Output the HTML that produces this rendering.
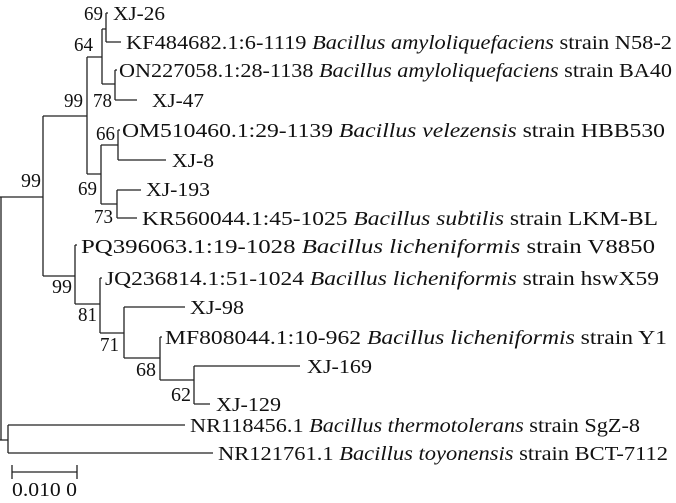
<!DOCTYPE html>
<html><head><meta charset="utf-8"><style>
html,body{margin:0;padding:0;background:#fff;}
svg{display:block;}
text{font-family:"Liberation Serif","Times New Roman",serif;font-size:20px;fill:#111;dominant-baseline:central;}
</style></head><body>
<svg width="676" height="503" viewBox="0 0 676 503">
<g stroke="#222" stroke-width="1.3" fill="none">
<path d="M1,197V440 M0,197H43 M43,116V276 M43,116H87 M43,276H75"/>
<path d="M87,57V174 M87,57H102 M102,29V84 M102,29H106 M106,13V42 M106,13H108 M106,42H121 M102,84H115 M115,70V100 M115,70H117 M115,100H137"/>
<path d="M87,174H101 M101,145V204 M101,145H118 M118,130V160 M118,130H120 M118,160H166 M101,204H117 M117,190V218 M117,190H141 M117,218H137"/>
<path d="M75,245V304 M75,245H77 M75,304H100 M100,278V333 M100,278H102 M100,333H124 M124,307V358 M124,307H185 M124,358H160 M160,337V380 M160,337H162 M160,380H194 M194,366V404 M194,366H300 M194,404H210"/>
<path d="M0,440H8 M8,425V453 M8,425H185 M8,453H213"/>
<path d="M12,472H77 M12,465V479 M77,465V479"/>
</g>
<text x="113" y="14" textLength="52" lengthAdjust="spacingAndGlyphs">XJ-26</text>
<text x="126" y="43" textLength="546" lengthAdjust="spacingAndGlyphs">KF484682.1:6-1119 <tspan font-style="italic">Bacillus amyloliquefaciens</tspan> strain N58-2</text>
<text x="119" y="71" textLength="553" lengthAdjust="spacingAndGlyphs">ON227058.1:28-1138 <tspan font-style="italic">Bacillus amyloliquefaciens</tspan> strain BA40</text>
<text x="152" y="101" textLength="52" lengthAdjust="spacingAndGlyphs">XJ-47</text>
<text x="122" y="131" textLength="543" lengthAdjust="spacingAndGlyphs">OM510460.1:29-1139 <tspan font-style="italic">Bacillus velezensis</tspan> strain HBB530</text>
<text x="172" y="161" textLength="42" lengthAdjust="spacingAndGlyphs">XJ-8</text>
<text x="146" y="190" textLength="64" lengthAdjust="spacingAndGlyphs">XJ-193</text>
<text x="142" y="219" textLength="516" lengthAdjust="spacingAndGlyphs">KR560044.1:45-1025 <tspan font-style="italic">Bacillus subtilis</tspan> strain LKM-BL</text>
<text x="81" y="247" textLength="574" lengthAdjust="spacingAndGlyphs">PQ396063.1:19-1028 <tspan font-style="italic">Bacillus licheniformis</tspan> strain V8850</text>
<text x="105" y="279" textLength="554" lengthAdjust="spacingAndGlyphs">JQ236814.1:51-1024 <tspan font-style="italic">Bacillus licheniformis</tspan> strain hswX59</text>
<text x="190" y="308" textLength="54" lengthAdjust="spacingAndGlyphs">XJ-98</text>
<text x="165" y="338" textLength="502" lengthAdjust="spacingAndGlyphs">MF808044.1:10-962 <tspan font-style="italic">Bacillus licheniformis</tspan> strain Y1</text>
<text x="307" y="367" textLength="65" lengthAdjust="spacingAndGlyphs">XJ-169</text>
<text x="216" y="405" textLength="65" lengthAdjust="spacingAndGlyphs">XJ-129</text>
<text x="190" y="426" textLength="450" lengthAdjust="spacingAndGlyphs">NR118456.1 <tspan font-style="italic">Bacillus thermotolerans</tspan> strain SgZ-8</text>
<text x="218" y="454" textLength="450" lengthAdjust="spacingAndGlyphs">NR121761.1 <tspan font-style="italic">Bacillus toyonensis</tspan> strain BCT-7112</text>
<text x="12" y="490" textLength="65" lengthAdjust="spacingAndGlyphs">0.010 0</text>
<g text-anchor="end">
<text x="103" y="14" textLength="19" lengthAdjust="spacingAndGlyphs">69</text>
<text x="93" y="45" textLength="19" lengthAdjust="spacingAndGlyphs">64</text>
<text x="83" y="101" textLength="19" lengthAdjust="spacingAndGlyphs">99</text>
<text x="112" y="101" textLength="19" lengthAdjust="spacingAndGlyphs">78</text>
<text x="115" y="134" textLength="19" lengthAdjust="spacingAndGlyphs">66</text>
<text x="97" y="189" textLength="19" lengthAdjust="spacingAndGlyphs">69</text>
<text x="113" y="217" textLength="19" lengthAdjust="spacingAndGlyphs">73</text>
<text x="41" y="181" textLength="20" lengthAdjust="spacingAndGlyphs">99</text>
<text x="72" y="287" textLength="20" lengthAdjust="spacingAndGlyphs">99</text>
<text x="97" y="315" textLength="19" lengthAdjust="spacingAndGlyphs">81</text>
<text x="119" y="345" textLength="19" lengthAdjust="spacingAndGlyphs">71</text>
<text x="156" y="370" textLength="20" lengthAdjust="spacingAndGlyphs">68</text>
<text x="191" y="395" textLength="20" lengthAdjust="spacingAndGlyphs">62</text>
</g>
</svg>
</body></html>
